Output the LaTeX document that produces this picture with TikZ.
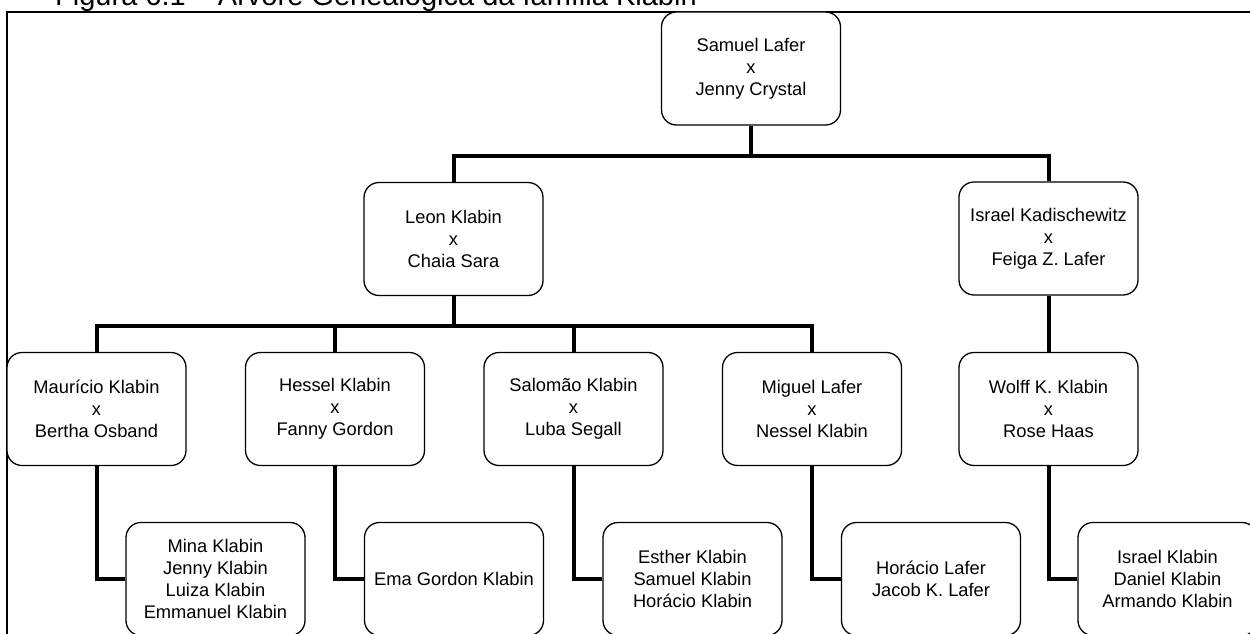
\documentclass[tikz,border=0pt]{standalone}
\usepackage{fontspec}
\setmainfont{Liberation Sans}
\begin{document}
\begin{tikzpicture}[x=1pt,y=-1pt,
  box/.style={draw, fill=white, rounded corners=15pt, line width=1.3pt,
    minimum width=179pt, minimum height=113pt, align=center, inner sep=0pt,
    font=\fontsize{18.3}{22}\selectfont},
  link/.style={line width=4pt},
  frame/.style={line width=2pt}]
\useasboundingbox (0,0) rectangle (1250,634);
\clip (0,0) rectangle (1250,634);

\node[anchor=base west, inner sep=0pt, font=\fontsize{29}{34}\selectfont] (title) at (55,6)
  {Figura 6.1 – Árvore Genealógica da família Klabin};
\draw[frame] (7,700) -- (7,11.7) -- (1300,11.7);

\coordinate (j1) at (751,155.5);
\coordinate (j2) at (453.5,326);

% level 1
\node[box] (A) at (751,68.5) {Samuel Lafer\\x\\Jenny Crystal};
% level 2
\node[box] (B) at (453.5,239) {Leon Klabin\\x\\Chaia Sara};
\node[box] (C) at (1048.5,238.5) {Israel Kadischewitz\\x\\Feiga Z. Lafer};
% level 3
\node[box] (M) at (96.5,409) {Maurício Klabin\\x\\Bertha Osband};
\node[box] (H) at (335,409) {Hessel Klabin\\x\\Fanny Gordon};
\node[box] (S) at (573.5,409) {Salomão Klabin\\x\\Luba Segall};
\node[box] (Mi) at (812,409) {Miguel Lafer\\x\\Nessel Klabin};
\node[box] (W) at (1048.5,409) {Wolff K. Klabin\\x\\Rose Haas};
% level 4
\node[box] (m4) at (215.5,579) {Mina Klabin\\Jenny Klabin\\Luiza Klabin\\Emmanuel Klabin};
\node[box] (h4) at (454,579) {Ema Gordon Klabin};
\node[box] (s4) at (692.5,579) {Esther Klabin\\Samuel Klabin\\Horácio Klabin};
\node[box] (mi4) at (931,579) {Horácio Lafer\\Jacob K. Lafer};
\node[box] (w4) at (1167.5,579) {Israel Klabin\\Daniel Klabin\\Armando Klabin};

\draw[link] (A.south) -- (j1);
\draw[link] (B.north) |- (j1) -| (C.north);
\draw[link] (B.south) -- (j2);
\draw[link] (M.north) |- (j2) -| (Mi.north);
\draw[link] (H.north) -- (H.north |- j2);
\draw[link] (S.north) -- (S.north |- j2);
\draw[link] (C.south) -- (W.north);

\draw[link] (M.south) |- (m4.west);
\draw[link] (H.south) |- (h4.west);
\draw[link] (S.south) |- (s4.west);
\draw[link] (Mi.south) |- (mi4.west);
\draw[link] (W.south) |- (w4.west);
\end{tikzpicture}
\end{document}
